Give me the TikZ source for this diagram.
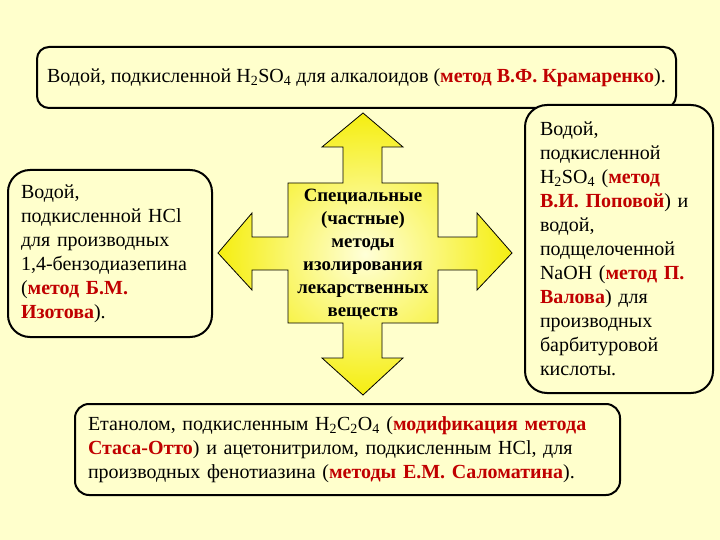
\documentclass[tikz,border=0pt]{standalone}
\usepackage{fontspec}
\setmainfont{Liberation Serif}
\definecolor{bg}{HTML}{FFFFCC}
\definecolor{meth}{HTML}{C00000}
\definecolor{arrowout}{HTML}{F5EE10}
\definecolor{arrowin}{HTML}{FFFFD8}
\newcommand{\mth}[1]{\textcolor{meth}{\textbf{#1}}}
\tikzset{
  infobox/.style={draw=black, line width=2pt, fill=bg, rounded corners=#1,
    inner xsep=14pt, inner ysep=4pt, align=left, anchor=center,
    font=\fontsize{20}{24}\selectfont},
  infobox/.default=14pt,
  centertext/.style={align=center, font=\fontsize{18.8}{23}\selectfont\bfseries}
}
\begin{document}
\begin{tikzpicture}[x=1pt,y=-1pt]
\fill[bg] (0,0) rectangle (720,540);
\useasboundingbox (0,0) rectangle (720,540);
% cross arrow
\shade[draw=black, line width=0.8pt, inner color=arrowin, outer color=arrowout]
 (363,113) -- (403,147) -- (382,147) -- (382,183) -- (438,183) -- (438,237)
 -- (477,237) -- (477,213) -- (512,253) -- (477,290) -- (477,270) -- (438,270)
 -- (438,323) -- (382,323) -- (382,358) -- (403,358) -- (363,395) -- (322,358)
 -- (343,358) -- (343,323) -- (288,323) -- (288,270) -- (252,270) -- (252,290)
 -- (218,253) -- (252,213) -- (252,237) -- (288,237) -- (288,183) -- (343,183)
 -- (343,147) -- (322,147) -- cycle;
\node[centertext] (mid) at (363,254) {Специальные\\(частные)\\методы\\изолирования\\лекарственных\\веществ};
% boxes
\node[infobox=12pt, minimum width=639pt, minimum height=61pt, inner xsep=8pt] (top) at (356.5,77.5)
 {Водой, подкисленной H\textsubscript{2}SO\textsubscript{4} для алкалоидов (\mth{метод В.Ф. Крамаренко}).};
\node[infobox=22pt, minimum width=204pt, minimum height=167pt, text width=178pt, inner xsep=13pt] (left) at (110,253.5)
 {Водой,\\подкисленной HCl\\для производных\\1,4-бензодиазепина\\(\mth{метод Б.М.}\\\mth{Изотова}).};
\node[infobox=22pt, minimum width=188pt, minimum height=288pt, text width=158pt, inner xsep=15pt] (right) at (619,249)
 {Водой,\\подкисленной\\H\textsubscript{2}SO\textsubscript{4} (\mth{метод}\\\mth{В.И. Поповой}) и\\водой,\\подщелоченной\\NaOH (\mth{метод П.}\\\mth{Валова}) для\\производных\\барбитуровой\\кислоты.};
\node[infobox=14pt, minimum width=545pt, minimum height=91pt, text width=519pt, inner xsep=13pt] (bottom) at (347.5,449.5)
 {Етанолом, подкисленным H\textsubscript{2}C\textsubscript{2}O\textsubscript{4} (\mth{модификация метода}\\\mth{Стаса-Отто}) и ацетонитрилом, подкисленным HCl, для\\производных фенотиазина (\mth{методы Е.М. Саломатина}).};
\end{tikzpicture}
\end{document}
